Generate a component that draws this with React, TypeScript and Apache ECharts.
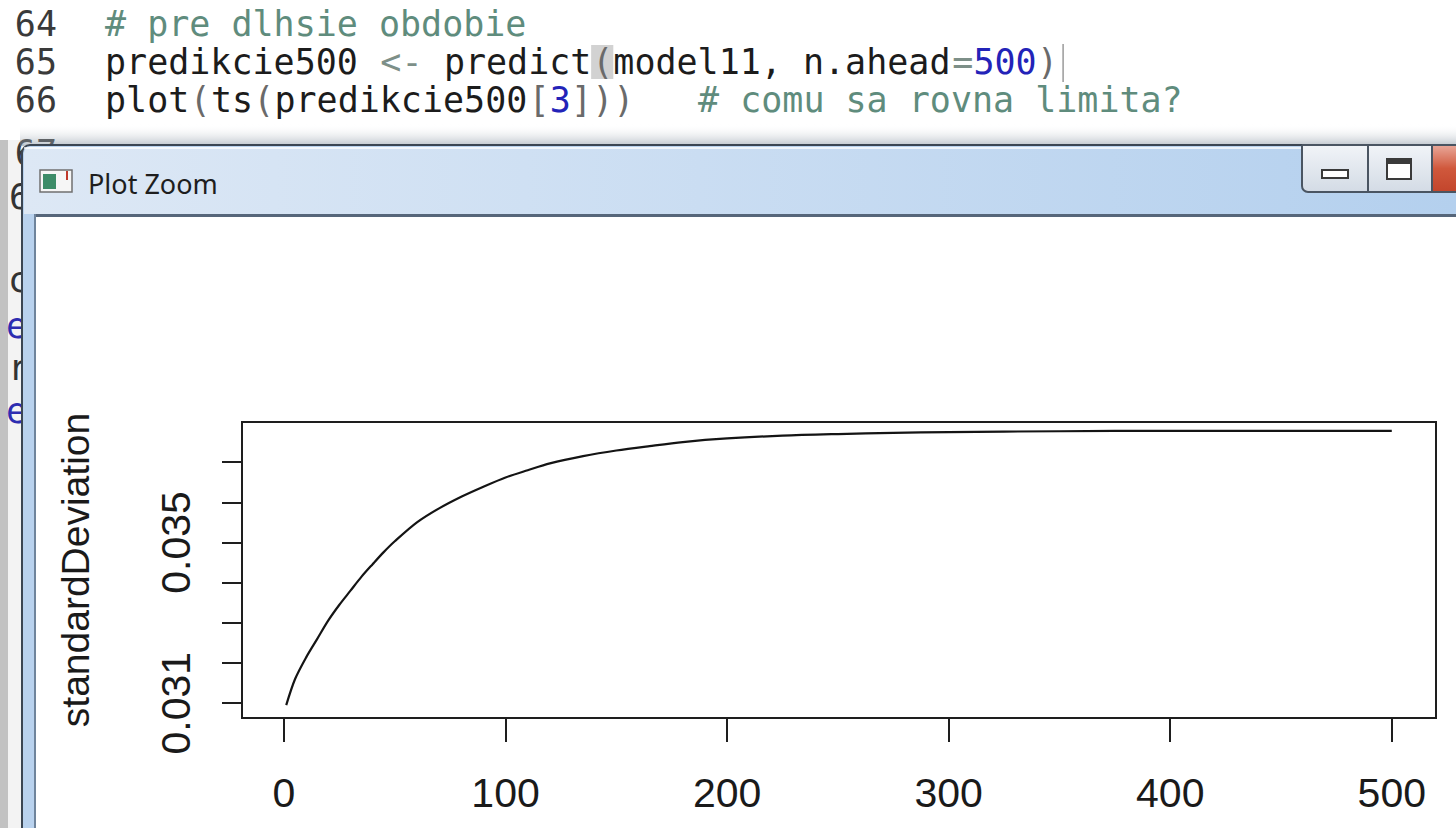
import React, { useEffect, useRef } from "react";
import * as echarts from "echarts";

// ---- chart data ----
const timeSteps = [1, 5, 10, 15, 20, 25, 30, 35, 40, 45, 50, 60, 70, 80, 90, 100, 110, 120, 135, 150, 165, 180, 200, 225, 250, 275, 300, 350, 400, 450, 500];
const standardDeviation = [0.03095, 0.0316, 0.03214, 0.0326, 0.03306, 0.03345, 0.0338, 0.03415, 0.03446, 0.03476, 0.03503, 0.0355, 0.03585, 0.03614, 0.03639, 0.03662, 0.0368, 0.03697, 0.03715, 0.03729, 0.0374, 0.0375, 0.03759, 0.03766, 0.0377, 0.03773, 0.03775, 0.03777, 0.03778, 0.03778, 0.03778];
const xTickValues = [0, 100, 200, 300, 400, 500];
const yTickValues = [0.031, 0.032, 0.033, 0.034, 0.035, 0.036, 0.037];
const yLabelValues = [0.031, 0.035];
const yAxisTitle = "standardDeviation";
const windowTitle = "Plot Zoom";

// ---- code editor text behind the window ----
const C_PLAIN = "#1c1c1c";
const C_COMMENT = "#5f8c7d";
const C_OP = "#7d8f88";
const C_PAREN = "#6a6a6a";
const C_NUM = "#2323b8";
const lineNumbers = ["64", "65", "66", "67"];
type Seg = [string, string];
const codeLines: Seg[][] = [
  [["# pre dlhsie obdobie", C_COMMENT]],
  [
    ["predikcie500", C_PLAIN],
    [" <- ", C_OP],
    ["predict", C_PLAIN],
    ["(", C_PAREN],
    ["model11, n.ahead", C_PLAIN],
    ["=", C_OP],
    ["500", C_NUM],
    [")", C_PAREN],
  ],
  [
    ["plot", C_PLAIN],
    ["(", C_PAREN],
    ["ts", C_PLAIN],
    ["(", C_PAREN],
    ["predikcie500", C_PLAIN],
    ["[", C_PAREN],
    ["3", C_NUM],
    ["]", C_PAREN],
    ["))", C_PAREN],
    ["   # comu sa rovna limita?", C_COMMENT],
  ],
];

const CODE_X = 105;
const CHAR_W = 21.18;
const LINE_Y = [24, 62, 100, 153];
const MONO = '"DejaVu Sans Mono", monospace';
const SANS = '"Liberation Sans", Arial, sans-serif';

function buildCode(): any[] {
  const els: any[] = [];
  lineNumbers.forEach((n, i) => {
    els.push({
      type: "text",
      x: 57,
      y: LINE_Y[i],
      style: { text: n, fill: "#3a3a3a", fontSize: 35, fontFamily: MONO, align: "right", verticalAlign: "middle" },
    });
  });
  codeLines.forEach((segs, li) => {
    let col = 0;
    segs.forEach(([t, c]) => {
      const lead = t.length - t.replace(/^ +/, "").length;
      const body = t.trim();
      if (body.length) {
        els.push({
          type: "text",
          x: CODE_X + (col + lead) * CHAR_W,
          y: LINE_Y[li],
          style: { text: body, fill: c, fontSize: 35, fontFamily: MONO, align: "left", verticalAlign: "middle" },
        });
      }
      col += t.length;
    });
  });
  return els;
}

export default function App() {
  const ref = useRef<HTMLDivElement>(null);
  useEffect(() => {
    if (!ref.current) return;
    const chart = echarts.init(ref.current, null, { renderer: "svg" });
    const first = timeSteps[0];
    const last = timeSteps[timeSteps.length - 1];
    const xMin = first - 0.04 * (last - first);
    const xMax = last + 0.04 * (last - first);
    const bracketCol = 23;
    const cursorCol = 45;

    const graphic: any[] = [
      // editor background
      { type: "rect", shape: { x: 0, y: 0, width: 1456, height: 150 }, style: { fill: "#ffffff" } },
      // left strip of editor visible behind window
      { type: "rect", shape: { x: 0, y: 140, width: 8, height: 688 }, style: { fill: "#c2c2c2" } },
      { type: "rect", shape: { x: 8, y: 140, width: 16, height: 688 }, style: { fill: "#f3f3f3" } },
      // bracket highlight
      { type: "rect", shape: { x: CODE_X + bracketCol * CHAR_W - 1, y: 45, width: CHAR_W + 1, height: 34 }, style: { fill: "#d2d2d2" } },
      ...buildCode(),
      // cursor
      { type: "line", shape: { x1: CODE_X + cursorCol * CHAR_W + 5, y1: 44, x2: CODE_X + cursorCol * CHAR_W + 5, y2: 82 }, style: { stroke: "#9a9a9a", lineWidth: 1.5 } },
      // partial chars at the left edge
      { type: "text", x: 9, y: 197, style: { text: "6", fill: "#333", fontSize: 35, fontFamily: MONO, verticalAlign: "middle" } },
      { type: "text", x: 8, y: 280, style: { text: "c", fill: "#333", fontSize: 35, fontFamily: MONO, verticalAlign: "middle" } },
      { type: "text", x: 6, y: 326, style: { text: "e", fill: "#2d2db0", fontSize: 35, fontFamily: MONO, verticalAlign: "middle" } },
      { type: "text", x: 8, y: 368, style: { text: "r", fill: "#333", fontSize: 35, fontFamily: MONO, verticalAlign: "middle" } },
      { type: "text", x: 6, y: 411, style: { text: "e", fill: "#2d2db0", fontSize: 35, fontFamily: MONO, verticalAlign: "middle" } },
      // window shadow
      {
        type: "rect",
        shape: { x: 20, y: 124, width: 1436, height: 22 },
        style: {
          fill: new echarts.graphic.LinearGradient(0, 0, 0, 1, [
            { offset: 0, color: "rgba(255,255,255,0)" },
            { offset: 1, color: "rgba(120,135,150,0.5)" },
          ]),
        },
      },
      // window frame
      {
        type: "rect",
        shape: { x: 22, y: 145, width: 1450, height: 700, r: [8, 8, 0, 0] },
        style: { fill: "#b9d2ee", stroke: "#3b4653", lineWidth: 2 },
      },
      // title bar
      {
        type: "rect",
        shape: { x: 24, y: 147, width: 1432, height: 67, r: [6, 6, 0, 0] },
        style: {
          fill: new echarts.graphic.LinearGradient(0, 0, 1, 0, [
            { offset: 0, color: "#dde8f5" },
            { offset: 0.35, color: "#cfe0f3" },
            { offset: 1, color: "#b4d0ee" },
          ]),
        },
      },
      { type: "rect", shape: { x: 24, y: 147, width: 1432, height: 2 }, style: { fill: "rgba(255,255,255,0.7)" } },
      // client area border and background
      { type: "rect", shape: { x: 34, y: 214, width: 1422, height: 3 }, style: { fill: "#56667a" } },
      { type: "rect", shape: { x: 34, y: 214, width: 2, height: 614 }, style: { fill: "#6f849c" } },
      { type: "rect", shape: { x: 36, y: 217, width: 1420, height: 611 }, style: { fill: "#ffffff" } },
      // icon
      { type: "rect", shape: { x: 40, y: 170, width: 32, height: 22 }, style: { fill: "#f6f6f6", stroke: "#707070", lineWidth: 1.5 } },
      { type: "rect", shape: { x: 43, y: 174, width: 13, height: 15 }, style: { fill: "#3d8c68" } },
      { type: "line", shape: { x1: 67, y1: 171, x2: 67, y2: 180 }, style: { stroke: "#c0392b", lineWidth: 2 } },
      // title
      { type: "text", x: 88, y: 183, style: { text: windowTitle, fill: "#1e1e1e", fontSize: 27, fontFamily: '"Noto Sans", sans-serif', verticalAlign: "middle" } },
      // caption buttons
      {
        type: "rect",
        shape: { x: 1302, y: 145, width: 66, height: 47, r: [0, 0, 0, 6] },
        style: {
          fill: new echarts.graphic.LinearGradient(0, 0, 0, 1, [
            { offset: 0, color: "#f1f4f8" },
            { offset: 1, color: "#d3dbe5" },
          ]),
          stroke: "#4a5562",
          lineWidth: 2,
        },
      },
      {
        type: "rect",
        shape: { x: 1368, y: 145, width: 64, height: 47 },
        style: {
          fill: new echarts.graphic.LinearGradient(0, 0, 0, 1, [
            { offset: 0, color: "#f1f4f8" },
            { offset: 1, color: "#d3dbe5" },
          ]),
          stroke: "#4a5562",
          lineWidth: 2,
        },
      },
      {
        type: "rect",
        shape: { x: 1432, y: 145, width: 40, height: 47 },
        style: {
          fill: new echarts.graphic.LinearGradient(0, 0, 0, 1, [
            { offset: 0, color: "#e9a89a" },
            { offset: 0.5, color: "#d0583c" },
            { offset: 1, color: "#c2452c" },
          ]),
          stroke: "#4a5562",
          lineWidth: 2,
        },
      },
      { type: "rect", shape: { x: 1322, y: 170, width: 26, height: 8 }, style: { fill: "#ffffff", stroke: "#3a3a3a", lineWidth: 2 } },
      { type: "rect", shape: { x: 1387, y: 159, width: 24, height: 20 }, style: { fill: "#ffffff", stroke: "#3a3a3a", lineWidth: 2 } },
      { type: "rect", shape: { x: 1387, y: 159, width: 24, height: 5 }, style: { fill: "#3a3a3a" } },
    ].map((e) => ({ ...e, z: -10 }));

    chart.setOption({
      animation: false,
      backgroundColor: "#ffffff",
      graphic: { elements: graphic },
      grid: {
        left: 242,
        top: 422,
        right: 20,
        bottom: 110,
        show: true,
        borderColor: "#1e1e1e",
        borderWidth: 2,
        backgroundColor: "transparent",
        z: 5,
      },
      xAxis: {
        type: "value",
        min: xMin,
        max: xMax,
        axisLine: { show: false, onZero: false },
        splitLine: { show: false },
        axisTick: { show: true, length: 24, lineStyle: { color: "#1e1e1e", width: 2 }, customValues: xTickValues },
        axisLabel: { customValues: xTickValues, margin: 54, fontSize: 41, fontFamily: SANS, color: "#1a1a1a" },
      },
      yAxis: {
        type: "value",
        min: 0.03063,
        max: 0.038,
        name: yAxisTitle,
        nameLocation: "middle",
        nameRotate: 90,
        nameGap: 147,
        nameTextStyle: { fontSize: 39, fontFamily: SANS, color: "#1a1a1a" },
        axisLine: { show: false, onZero: false },
        splitLine: { show: false },
        axisTick: { show: true, length: 20, lineStyle: { color: "#1e1e1e", width: 2 }, customValues: yTickValues },
        axisLabel: { customValues: yLabelValues, rotate: 90, margin: 46, fontSize: 41, fontFamily: SANS, color: "#1a1a1a" },
      },
      series: [
        {
          type: "line",
          data: timeSteps.map((t, i) => [t, standardDeviation[i]]),
          showSymbol: false,
          smooth: 0.3,
          lineStyle: { color: "#141414", width: 2.2 },
        },
      ],
    });
    return () => chart.dispose();
  }, []);
  return <div ref={ref} style={{ position: "fixed", left: 0, top: 0, width: 1456, height: 828 }} />;
}
